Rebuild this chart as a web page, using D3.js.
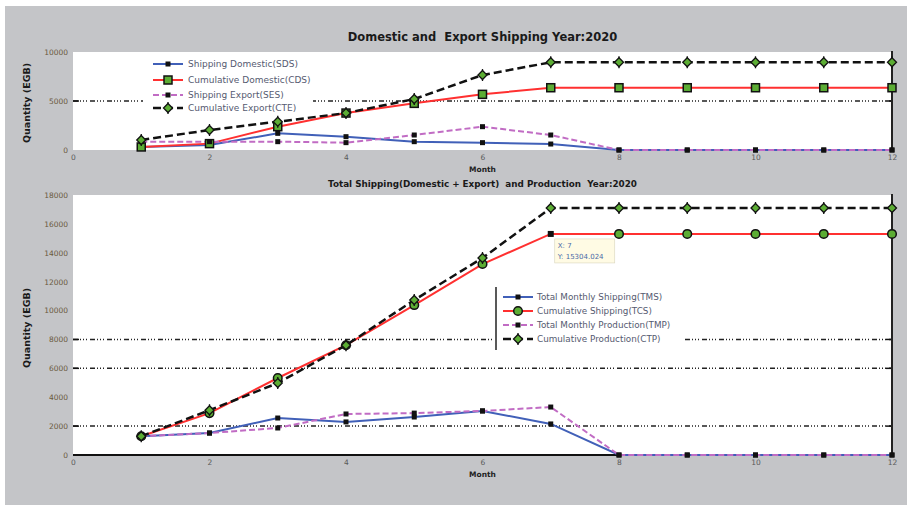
<!DOCTYPE html>
<html>
<head>
<meta charset="utf-8">
<script src="https://cdn.jsdelivr.net/npm/d3@7"></script>
<style>
  body { margin: 0; background: #fff; }
  svg { display: block; }
  text { font-family: "DejaVu Sans", sans-serif; white-space: pre; }
</style>
</head>
<body>
<svg id="chart" width="907" height="505"></svg>
<script>
// ---- data ----
const months = [1, 2, 3, 4, 5, 6, 7, 8, 9, 10, 11, 12];
const xTicks = [0, 2, 4, 6, 8, 10, 12];

// Domestic and export shipping
const shipDomestic = [300, 500, 1700, 1360, 850, 750, 610, 0, 0, 0, 0, 0];
const cumDomestic  = [310, 650, 2380, 3770, 4760, 5680, 6354, 6354, 6354, 6354, 6354, 6354];
const shipExport   = [850, 850, 850, 750, 1530, 2380, 1530, 0, 0, 0, 0, 0];
const cumExport    = [1020, 2040, 2890, 3770, 5200, 7650, 8950, 8950, 8950, 8950, 8950, 8950];
const topYTicks = [0, 5000, 10000];
const topGrid   = [5000];

// Total shipping and production
const totalShip = [1300, 1520, 2560, 2290, 2630, 3050, 2150, 0, 0, 0, 0, 0];
const cumShip   = [1300, 2900, 5330, 7600, 10380, 13220, 15304.024, 15304.024, 15304.024, 15304.024, 15304.024, 15304.024];
const totalProd = [1300, 1520, 1870, 2840, 2900, 3050, 3320, 0, 0, 0, 0, 0];
const cumProd   = [1300, 3100, 4980, 7600, 10730, 13640, 17100, 17100, 17100, 17100, 17100, 17100];
const botYTicks = [0, 2000, 4000, 6000, 8000, 10000, 12000, 14000, 16000, 18000];
const botGrid   = [2000, 6000, 8000];

// Data tip on cumulative shipping
const tipIndex = 6;

// ---- drawing ----
const svg = d3.select("#chart");
const GREEN = "#5cad34";
const BLUE = "#4160b8";
const RED = "#ff3030";
const PURPLE = "#c16cc4";
const GRID_DASH = "5,2,1,2,1,2,1,3";

svg.append("rect").attr("x", 5).attr("y", 6).attr("width", 902).attr("height", 499).attr("fill", "#c4c5c8");

function marker(g, kind, x, y) {
  if (kind === "small") {
    g.append("rect").attr("x", x - 2.5).attr("y", y - 2.5).attr("width", 5).attr("height", 5).attr("fill", "#111");
  } else if (kind === "square") {
    g.append("rect").attr("x", x - 4).attr("y", y - 4).attr("width", 8).attr("height", 8)
      .attr("fill", GREEN).attr("stroke", "#111").attr("stroke-width", 1.5);
  } else if (kind === "circle") {
    g.append("circle").attr("cx", x).attr("cy", y).attr("r", 4.3)
      .attr("fill", GREEN).attr("stroke", "#111").attr("stroke-width", 1.5);
  } else if (kind === "diamond") {
    g.append("line").attr("x1", x).attr("x2", x).attr("y1", y - 6).attr("y2", y + 6)
      .attr("stroke", "#111").attr("stroke-width", 1.3);
    g.append("path").attr("transform", `translate(${x},${y})`)
      .attr("d", "M0,-4.5L4.5,0L0,4.5L-4.5,0Z")
      .attr("fill", GREEN).attr("stroke", "#111").attr("stroke-width", 1.3);
  }
}

function panel(cfg) {
  const { x0, x1, y0, y1, yMax, yTicks, grid, series, title, titleY, titleSize, yLabel, yLabelY, bottomLine } = cfg;
  const x = d3.scaleLinear().domain([0, 12]).range([x0, x1]);
  const y = d3.scaleLinear().domain([0, yMax]).range([y1, y0]);
  const g = svg.append("g");

  g.append("rect").attr("x", x0).attr("y", y0).attr("width", x1 - x0).attr("height", y1 - y0).attr("fill", "#fff");

  // grid lines at selected levels, with short solid ticks at both ends
  grid.forEach(v => {
    g.append("line").attr("x1", x0).attr("x2", x1).attr("y1", y(v)).attr("y2", y(v))
      .attr("stroke", "#222").attr("stroke-width", 1.5).attr("stroke-dasharray", GRID_DASH);
    g.append("line").attr("x1", x0).attr("x2", x0 + 6).attr("y1", y(v)).attr("y2", y(v))
      .attr("stroke", "#111").attr("stroke-width", 1.5);
    g.append("line").attr("x1", x1 - 6).attr("x2", x1).attr("y1", y(v)).attr("y2", y(v))
      .attr("stroke", "#111").attr("stroke-width", 1.5);
  });

  // axes
  const xAxis = g.append("g").attr("transform", `translate(0,${y1})`)
    .call(d3.axisBottom(x).tickValues(xTicks).tickSize(0).tickPadding(5).tickFormat(d3.format("d")));
  xAxis.select(".domain").remove();
  xAxis.selectAll("text").attr("fill", "#5a5a5a").style("font-size", "7.5px");

  const yAxis = g.append("g").attr("transform", `translate(${x0},0)`)
    .call(d3.axisLeft(y).tickValues(yTicks).tickSize(0).tickPadding(5).tickFormat(d3.format("d")));
  yAxis.select(".domain").remove();
  yAxis.selectAll("text").attr("fill", "#6a5a40").style("font-size", "7.5px");

  if (bottomLine) {
    g.append("line").attr("x1", x0).attr("x2", x1).attr("y1", y1).attr("y2", y1)
      .attr("stroke", "#111").attr("stroke-width", 2);
  }
  g.append("line").attr("x1", x1).attr("x2", x1).attr("y1", y0 - 1).attr("y2", y1 + 1)
    .attr("stroke", "#222").attr("stroke-width", 2);

  // series
  series.forEach(s => {
    const line = d3.line().x((d, i) => x(months[i])).y(d => y(d));
    g.append("path").datum(s.values).attr("d", line).attr("fill", "none")
      .attr("stroke", s.color).attr("stroke-width", s.width)
      .attr("stroke-dasharray", s.dash || null);
  });
  series.forEach(s => {
    s.values.forEach((v, i) => {
      if (s.skip && s.skip.includes(i)) return;
      marker(g, s.marker, x(months[i]), y(v));
    });
  });

  // titles
  svg.append("text").attr("x", (x0 + x1) / 2).attr("y", titleY).attr("text-anchor", "middle")
    .attr("font-weight", "bold").attr("fill", "#1a1a1a").style("font-size", titleSize + "px").text(title);
  svg.append("text").attr("x", (x0 + x1) / 2).attr("y", y1 + 22).attr("text-anchor", "middle")
    .attr("font-weight", "bold").attr("fill", "#222").style("font-size", "7.5px").text("Month");
  svg.append("text").attr("transform", `translate(30,${yLabelY}) rotate(-90)`).attr("text-anchor", "middle")
    .attr("font-weight", "bold").attr("fill", "#1a1a1a").style("font-size", "9.5px").text(yLabel);

  return { g, x, y };
}

function legend(g, cfg) {
  const { bx, by, bw, bh, rows, border, lx0, lx1, tx, fs } = cfg;
  g.append("rect").attr("x", bx).attr("y", by).attr("width", bw).attr("height", bh).attr("fill", "#fff");
  if (border) {
    g.append("line").attr("x1", bx + 3).attr("x2", bx + 3).attr("y1", by).attr("y2", by + bh)
      .attr("stroke", "#222").attr("stroke-width", 1.5);
  }
  rows.forEach(r => {
    g.append("line").attr("x1", lx0).attr("x2", lx1).attr("y1", r.y).attr("y2", r.y)
      .attr("stroke", r.color).attr("stroke-width", r.width).attr("stroke-dasharray", r.dash || null);
    marker(g, r.marker, (lx0 + lx1) / 2, r.y);
    g.append("text").attr("x", tx).attr("y", r.y).attr("dy", "0.35em").attr("fill", "#555a70")
      .style("font-size", fs + "px").text(r.label);
  });
}

// upper panel
const upperPanel = panel({
  x0: 73, x1: 892, y0: 52, y1: 150, yMax: 10000, yTicks: topYTicks, grid: topGrid,
  title: "Domestic and  Export Shipping Year:2020", titleY: 41, titleSize: 11.5,
  yLabel: "Quantity (EGB)", yLabelY: 103, bottomLine: false,
  series: [
    { values: shipDomestic, color: BLUE, width: 2, marker: "small" },
    { values: cumDomestic, color: RED, width: 2, marker: "square" },
    { values: shipExport, color: PURPLE, width: 2, dash: "6,3", marker: "small" },
    { values: cumExport, color: "#111", width: 2.5, dash: "8,4", marker: "diamond" }
  ]
});
legend(upperPanel.g, {
  bx: 143, by: 56, bw: 170, bh: 59, border: false, lx0: 153, lx1: 183, tx: 188, fs: 9,
  rows: [
    { y: 64, label: "Shipping Domestic(SDS)", color: BLUE, width: 2, marker: "small" },
    { y: 80, label: "Cumulative Domestic(CDS)", color: RED, width: 2, marker: "square" },
    { y: 95, label: "Shipping Export(SES)", color: PURPLE, width: 2, dash: "6,3", marker: "small" },
    { y: 108, label: "Cumulative Export(CTE)", color: "#111", width: 2.5, dash: "8,4", marker: "diamond" }
  ]
});

// lower panel
const lowerPanel = panel({
  x0: 73, x1: 892, y0: 195, y1: 455, yMax: 18000, yTicks: botYTicks, grid: botGrid,
  title: "Total Shipping(Domestic + Export)  and Production  Year:2020", titleY: 187, titleSize: 8.8,
  yLabel: "Quantity (EGB)", yLabelY: 328, bottomLine: true,
  series: [
    { values: totalShip, color: BLUE, width: 2, marker: "small" },
    { values: cumShip, color: RED, width: 2, marker: "circle", skip: [tipIndex] },
    { values: totalProd, color: PURPLE, width: 2, dash: "6,3", marker: "small" },
    { values: cumProd, color: "#111", width: 2.5, dash: "8,4", marker: "diamond" }
  ]
});
legend(lowerPanel.g, {
  bx: 493, by: 287, bw: 190, bh: 63, border: true, lx0: 503, lx1: 533, tx: 537, fs: 8.8,
  rows: [
    { y: 297, label: "Total Monthly Shipping(TMS)", color: BLUE, width: 2, marker: "small" },
    { y: 311, label: "Cumulative Shipping(TCS)", color: RED, width: 2, marker: "circle" },
    { y: 325, label: "Total Monthly Production(TMP)", color: PURPLE, width: 2, dash: "6,3", marker: "small" },
    { y: 339, label: "Cumulative Production(CTP)", color: "#111", width: 2.5, dash: "8,4", marker: "diamond" }
  ]
});

// data tip on the selected cumulative shipping point
{
  const px = lowerPanel.x(months[tipIndex]);
  const py = lowerPanel.y(cumShip[tipIndex]);
  lowerPanel.g.append("rect").attr("x", px - 3).attr("y", py - 3).attr("width", 6).attr("height", 6)
    .attr("fill", "#111");
  const tip = lowerPanel.g.append("g").attr("transform", `translate(${px + 4},${py + 5})`);
  tip.append("rect").attr("width", 60).attr("height", 24).attr("fill", "#fffbe4")
    .attr("stroke", "#d8d4bc").attr("stroke-width", 0.6);
  tip.append("text").attr("x", 3).attr("y", 9).attr("fill", "#4a6aa8").style("font-size", "7px")
    .text("X: " + months[tipIndex]);
  tip.append("text").attr("x", 3).attr("y", 20).attr("fill", "#4a6aa8").style("font-size", "7px")
    .text("Y: " + cumShip[tipIndex]);
}
</script>
</body>
</html>
